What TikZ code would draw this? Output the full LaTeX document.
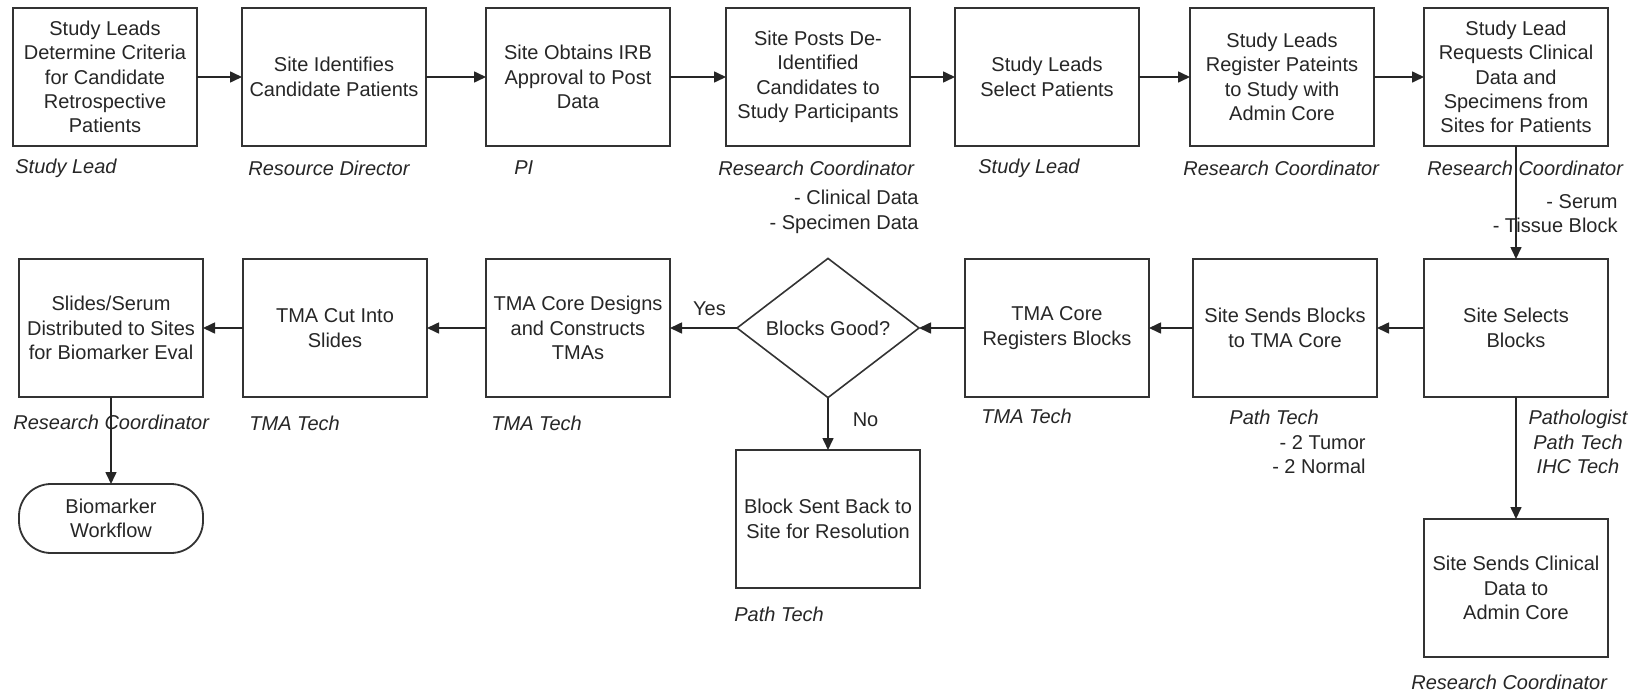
\documentclass[tikz,border=0pt]{standalone}
\usepackage{fontspec}
\setmainfont{Liberation Sans}
\usetikzlibrary{shapes.geometric,arrows.meta}
\begin{document}
\begin{tikzpicture}[x=0.5pt,y=-0.5pt,
  every node/.style={font=\fontsize{10}{12.2}\selectfont, text=black!85},
  proc/.style={draw=black!80, line width=0.9pt, minimum width=92pt, minimum height=69pt, inner sep=0pt, outer sep=0pt, align=center},
  dec/.style={draw=black!80, line width=0.8pt, diamond, minimum width=91pt, minimum height=68pt, inner sep=0pt, outer sep=0pt, align=center},
  term/.style={draw=black!80, line width=0.9pt, rounded corners=16pt, minimum width=92pt, minimum height=34.5pt, inner sep=0pt, outer sep=0pt, align=center},
  role/.style={font=\fontsize{10}{12.2}\selectfont\itshape, inner sep=0pt},
  note/.style={inner sep=0pt, align=right},
  flow/.style={draw=black!85, line width=0.8pt, -{Triangle[length=6pt,width=5.5pt]}},
]
\useasboundingbox (0,0) rectangle (1645,691);

% top row
\node[proc] (b1) at (105,77) {Study Leads\\Determine Criteria\\for Candidate\\Retrospective\\Patients};
\node[proc] (b2) at (334,77) {Site Identifies\\Candidate Patients};
\node[proc] (b3) at (578,77) {Site Obtains IRB\\Approval to Post\\Data};
\node[proc] (b4) at (818,77) {Site Posts De-\\Identified\\Candidates to\\Study Participants};
\node[proc] (b5) at (1047,77) {Study Leads\\Select Patients};
\node[proc] (b6) at (1282,77) {Study Leads\\Register Pateints\\to Study with\\Admin Core};
\node[proc] (b7) at (1516,77) {Study Lead\\Requests Clinical\\Data and\\Specimens from\\Sites for Patients};

% bottom row
\node[proc] (s1) at (111,328) {Slides/Serum\\Distributed to Sites\\for Biomarker Eval};
\node[proc] (s2) at (335,328) {TMA Cut Into\\Slides};
\node[proc] (s3) at (578,328) {TMA Core Designs\\and Constructs\\TMAs};
\node[dec]  (d)  at (828,328) {Blocks Good?};
\node[proc] (s5) at (1057,328) {TMA Core\\Registers Blocks};
\node[proc] (s6) at (1285,328) {Site Sends Blocks\\to TMA Core};
\node[proc] (s7) at (1516,328) {Site Selects\\Blocks};
\node[proc] (bsb) at (828,519) {Block Sent Back to\\Site for Resolution};
\node[proc] (cd) at (1516,588) {Site Sends Clinical\\Data to\\Admin Core};
\node[term] (bw) at (111,518.5) {Biomarker\\Workflow};

% role labels
\node[role, anchor=west] (r1) at (15,168) {Study Lead};
\node[role, anchor=west] (r2) at (248,168) {Resource Director};
\node[role, anchor=west] (r3) at (514,168) {PI};
\node[role, anchor=west] (r4) at (718,168) {Research Coordinator};
\node[role, anchor=west] (r5) at (978,168) {Study Lead};
\node[role, anchor=west] (r6) at (1183,168) {Research Coordinator};
\node[role, anchor=west] (r7) at (1427,168) {Research Coordinator};
\node[role, anchor=west] (r8) at (13,422) {Research Coordinator};
\node[role, anchor=west] (r9) at (249,423) {TMA Tech};
\node[role, anchor=west] (r10) at (491,423) {TMA Tech};
\node[role, anchor=west] (r11) at (981,416) {TMA Tech};
\node[role, anchor=west] (r12) at (1229,417) {Path Tech};
\node[role, anchor=north, align=center] (r13) at (1578,410) {Pathologist\\Path Tech\\IHC Tech};
\node[role, anchor=west] (r14) at (734,614) {Path Tech};
\node[role, anchor=west] (r15) at (1411,682) {Research Coordinator};

% notes
\node[note, anchor=north east] (n1) at (919,190) {- Clinical Data\\- Specimen Data};
\node[note, anchor=north east] (n2) at (1618,194) {- Serum\\- Tissue Block};
\node[note, anchor=north east] (n3) at (1366,435) {- 2 Tumor\\- 2 Normal};

% connectors
\draw[flow] (b1) -- (b2);
\draw[flow] (b2) -- (b3);
\draw[flow] (b3) -- (b4);
\draw[flow] (b4) -- (b5);
\draw[flow] (b5) -- (b6);
\draw[flow] (b6) -- (b7);
\draw[flow] (b7) -- (s7);
\draw[flow] (s7) -- (s6);
\draw[flow] (s6) -- (s5);
\draw[flow] (s5) -- (d);
\draw[flow] (d) -- node[above, inner sep=0pt, yshift=6pt, xshift=3pt] (yes) {Yes} (s3);
\draw[flow] (s3) -- (s2);
\draw[flow] (s2) -- (s1);
\draw[flow] (d) -- node[right, inner sep=0pt, xshift=12pt, yshift=2pt] (no) {No} (bsb);
\draw[flow] (s7) -- (cd);
\draw[flow] (s1) -- (bw);
\end{tikzpicture}
\end{document}
